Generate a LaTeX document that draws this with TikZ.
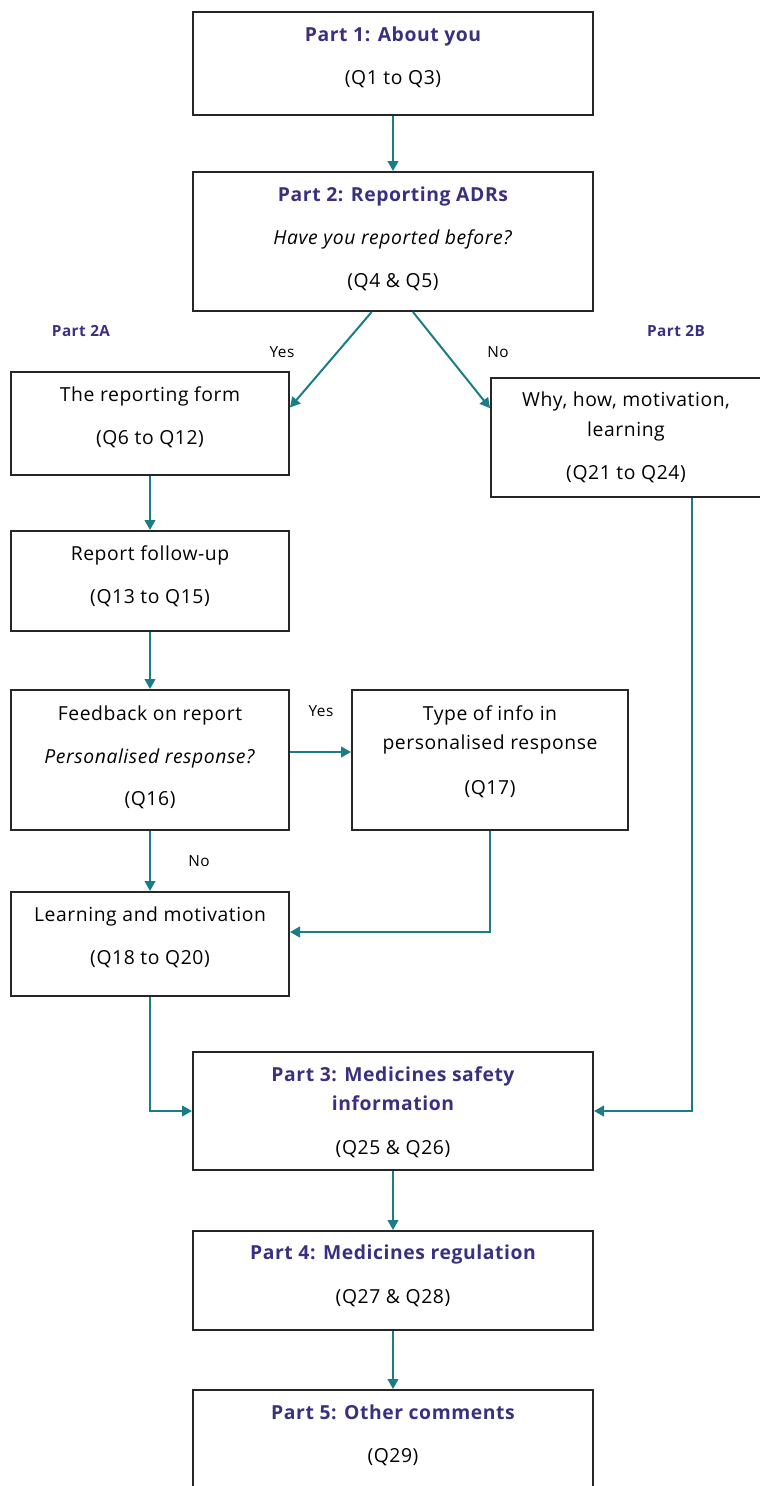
\documentclass[tikz,border=0pt]{standalone}
\usepackage{fontspec}
\setmainfont{Open Sans}[LetterSpace=3]
\usetikzlibrary{arrows.meta}

\definecolor{flowteal}{RGB}{26,124,134}
\definecolor{partpurple}{RGB}{58,48,128}
\newcommand{\parthead}[1]{{\bfseries\color{partpurple}#1}}

\begin{document}
\begin{tikzpicture}[x=0.75pt,y=-0.75pt,font=\fontsize{14.5}{17.5}\selectfont,
  box/.style 2 args={draw=black!85, line width=1.5pt, inner sep=0pt,
    minimum width=#1*0.75pt, minimum height=#2*0.75pt},
  txt/.style={align=center, inner sep=0pt, anchor=north},
  flow/.style={draw=flowteal, line width=1.5pt, -{Triangle[length=7.5pt,width=8pt]}},
  tag/.style={font=\fontsize{11.5}{13}\selectfont},
  parttag/.style={font=\fontsize{11.5}{13}\selectfont\bfseries, text=partpurple}]
  \useasboundingbox (0,0) rectangle (760,1486);

  % Boxes
  \node[box={400}{103}] (p1) at (393,63.5) {};
  \node[box={400}{139}] (p2) at (393,241.5) {};
  \node[box={278}{103}] (form) at (150,423.5) {};
  \node[box={270}{119}] (why) at (626,437.5) {};
  \node[box={278}{100}] (fup) at (150,581) {};
  \node[box={278}{140}] (fb) at (150,760) {};
  \node[box={276}{140}] (ti) at (490,760) {};
  \node[box={278}{104}] (lm) at (150,944) {};
  \node[box={400}{118}] (p3) at (393,1111) {};
  \node[box={400}{99}] (p4) at (393,1280.5) {};
  \node[box={400}{130}] (p5) at (393,1455) {};

  % Texts
  \node[txt] (p1t) at (393,26.5) {\parthead{Part 1: About you}\\[15pt](Q1 to Q3)};
  \node[txt] (p2t) at (393,186.5) {\parthead{Part 2: Reporting ADRs}\\[14.5pt]\textit{Have you reported before?}\\[15pt](Q4 \& Q5)};
  \node[txt] (formt) at (150,386.5) {The reporting form\\[15pt](Q6 to Q12)};
  \node[txt] (whyt) at (626,391.5) {Why, how, motivation,\\[5pt]learning\\[15pt](Q21 to Q24)};
  \node[txt] (fupt) at (150,545.5) {Report follow-up\\[15pt](Q13 to Q15)};
  \node[txt] (fbt) at (150,705.5) {Feedback on report\\[14.5pt]\textit{Personalised response?}\\[14.5pt](Q16)};
  \node[txt] (tit) at (490,705.5) {Type of info in\\[4.5pt]personalised response\\[16.25pt](Q17)};
  \node[txt] (lmt) at (150,906.5) {Learning and motivation\\[15pt](Q18 to Q20)};
  \node[txt] (p3t) at (393,1066.5) {\parthead{Part 3: Medicines safety}\\[4.5pt]\parthead{information}\\[15.5pt](Q25 \& Q26)};
  \node[txt] (p4t) at (393,1244.5) {\parthead{Part 4: Medicines regulation}\\[15.5pt](Q27 \& Q28)};
  \node[txt] (p5t) at (393,1404.5) {\parthead{Part 5: Other comments}\\[15pt](Q29)};

  % Branch labels
  \node[parttag] (tag2a) at (81,331) {Part 2A};
  \node[parttag] (tag2b) at (676,331) {Part 2B};
  \node[tag] (yes1) at (282,352) {Yes};
  \node[tag] (no1) at (498,352) {No};
  \node[tag] (yes2) at (321,711) {Yes};
  \node[tag] (no2) at (199,861) {No};

  % Connectors
  \draw[flow] (p1) -- (p2);
  \draw[flow] ([xshift=-16pt]p2.south) -- ([yshift=12pt]form.east);
  \draw[flow] ([xshift=15pt]p2.south) -- ([yshift=22pt]why.west);
  \draw[flow] (form) -- (fup);
  \draw[flow] (fup) -- (fb);
  \draw[flow] ([yshift=6pt]fb.east) -- ([yshift=6pt]ti.west);
  \draw[flow] (fb) -- (lm);
  \draw[flow] (ti.south) |- ([yshift=9pt]lm.east);
  \draw[flow] (lm.south) |- (p3.west);
  \draw[flow] ([xshift=49.5pt]why.south) |- (p3.east);
  \draw[flow] (p3) -- (p4);
  \draw[flow] (p4) -- (p5);
\end{tikzpicture}
\end{document}
